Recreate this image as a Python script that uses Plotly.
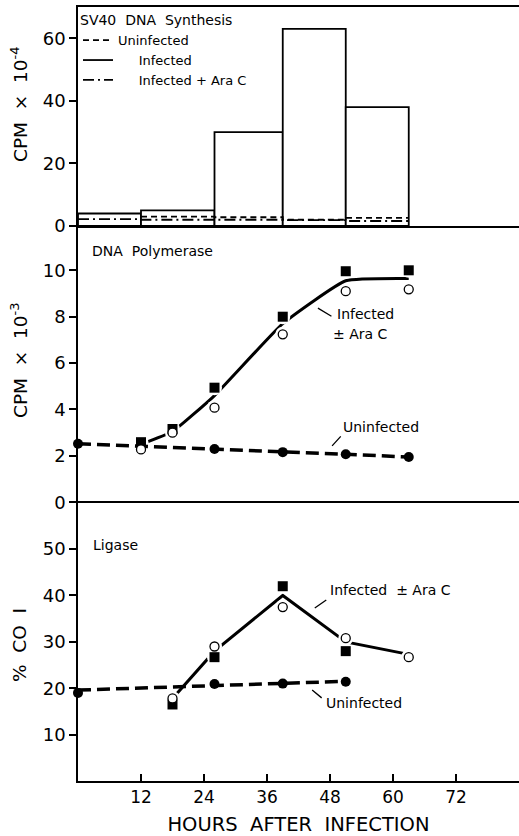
import plotly.graph_objects as go
from plotly.subplots import make_subplots

# ---------------- data ----------------
# Top panel: SV40 DNA synthesis (histogram bins, hours)
bin_edges = [0, 12, 26, 39, 51, 63]
syn_infected = [4, 5, 30, 63, 38]
syn_uninf_edges = [12, 26, 39, 51, 63]
syn_uninfected = [3.0, 2.8, 2.0, 2.6, 2.6]
syn_arac = [2.2, 2.0, 2.0, 1.9, 1.6, 1.6]

# Middle panel: DNA polymerase (CPM x 10^-3)
pol_uninf_x = [0, 12, 26, 39, 51, 63]
pol_uninf_y = [2.52, 2.42, 2.3, 2.16, 2.07, 1.95]
pol_inf_x = [12, 18, 26, 39, 51, 63]
pol_inf_y = [2.59, 3.16, 4.94, 8.0, 9.96, 10.0]
pol_arac_x = [12, 18, 26, 39, 51, 63]
pol_arac_y = [2.28, 3.0, 4.08, 7.24, 9.1, 9.18]
pol_fit_x = [12, 18, 26, 39, 51, 63]
pol_fit_y = [2.5, 3.05, 4.6, 7.7, 9.55, 9.65]

# Bottom panel: Ligase (% CO I)
lig_uninf_x = [0, 26, 39, 51]
lig_uninf_y = [19.0, 20.9, 21.0, 21.4]
lig_uninf_fit_x = [0, 51]
lig_uninf_fit_y = [19.6, 21.5]
lig_inf_x = [18, 26, 39, 51]
lig_inf_y = [16.5, 26.7, 42.0, 28.0]
lig_arac_x = [18, 26, 39, 51, 63]
lig_arac_y = [17.8, 29.0, 37.5, 30.8, 26.7]
lig_line_x = [18, 26, 39, 51, 63]
lig_line_y = [17.8, 28.0, 40.0, 30.0, 27.3]

hour_ticks = [12, 24, 36, 48, 60, 72]

FONT = "DejaVu Sans"
BLACK = "black"

fig = make_subplots(rows=3, cols=1, shared_xaxes=True, vertical_spacing=0,
                    row_heights=[219, 299, 256])

# ---- top panel ----
widths = [bin_edges[i + 1] - bin_edges[i] for i in range(len(syn_infected))]
fig.add_trace(go.Bar(x=bin_edges[:-1], y=syn_infected, width=widths, offset=0,
                     marker=dict(color="white", line=dict(color=BLACK, width=1.8)),
                     showlegend=False, hoverinfo="skip"), row=1, col=1)
fig.add_trace(go.Scatter(x=syn_uninf_edges, y=syn_uninfected, mode="lines",
                         line=dict(color=BLACK, width=1.8, shape="hv", dash="6px,4px"),
                         name="Uninfected", legendrank=1), row=1, col=1)
fig.add_trace(go.Scatter(x=[None], y=[None], mode="lines",
                         line=dict(color=BLACK, width=1.8),
                         name="     Infected", legendrank=2), row=1, col=1)
fig.add_trace(go.Scatter(x=bin_edges, y=syn_arac, mode="lines",
                         line=dict(color=BLACK, width=1.8, shape="hv", dash="11px,4px,2px,4px"),
                         name="     Infected + Ara C", legendrank=3), row=1, col=1)

# ---- middle panel ----
fig.add_trace(go.Scatter(x=pol_fit_x, y=pol_fit_y, mode="lines",
                         line=dict(color=BLACK, width=3, shape="spline", smoothing=0.4),
                         showlegend=False), row=2, col=1)
fig.add_trace(go.Scatter(x=pol_inf_x + pol_arac_x, y=pol_inf_y + pol_arac_y, mode="markers",
                         marker=dict(symbol="circle", size=15, color="white"),
                         showlegend=False, cliponaxis=False), row=2, col=1)
fig.add_trace(go.Scatter(x=pol_uninf_x, y=pol_uninf_y, mode="lines+markers",
                         line=dict(color=BLACK, width=3.5, dash="13px,6px"),
                         marker=dict(symbol="circle", size=10, color=BLACK),
                         showlegend=False, cliponaxis=False), row=2, col=1)
fig.add_trace(go.Scatter(x=pol_inf_x, y=pol_inf_y, mode="markers",
                         marker=dict(symbol="square", size=10, color=BLACK),
                         showlegend=False, cliponaxis=False), row=2, col=1)
fig.add_trace(go.Scatter(x=pol_arac_x, y=pol_arac_y, mode="markers",
                         marker=dict(symbol="circle", size=9, color="white",
                                     line=dict(color=BLACK, width=1.3)),
                         showlegend=False, cliponaxis=False), row=2, col=1)

# ---- bottom panel ----
fig.add_trace(go.Scatter(x=lig_line_x, y=lig_line_y, mode="lines",
                         line=dict(color=BLACK, width=3),
                         showlegend=False), row=3, col=1)
fig.add_trace(go.Scatter(x=lig_inf_x + lig_arac_x, y=lig_inf_y + lig_arac_y, mode="markers",
                         marker=dict(symbol="circle", size=15, color="white"),
                         showlegend=False, cliponaxis=False), row=3, col=1)
fig.add_trace(go.Scatter(x=lig_uninf_fit_x, y=lig_uninf_fit_y, mode="lines",
                         line=dict(color=BLACK, width=3.5, dash="13px,6px"),
                         showlegend=False), row=3, col=1)
fig.add_trace(go.Scatter(x=lig_uninf_x, y=lig_uninf_y, mode="markers",
                         marker=dict(symbol="circle", size=10, color=BLACK),
                         showlegend=False, cliponaxis=False), row=3, col=1)
fig.add_trace(go.Scatter(x=lig_inf_x, y=lig_inf_y, mode="markers",
                         marker=dict(symbol="square", size=10, color=BLACK),
                         showlegend=False, cliponaxis=False), row=3, col=1)
fig.add_trace(go.Scatter(x=lig_arac_x, y=lig_arac_y, mode="markers",
                         marker=dict(symbol="circle", size=9, color="white",
                                     line=dict(color=BLACK, width=1.3)),
                         showlegend=False, cliponaxis=False), row=3, col=1)

# ---- axes ----
xr = [0, 84]
fig.update_xaxes(range=xr, showgrid=False, zeroline=False, automargin=False)
fig.update_xaxes(row=1, col=1, showline=True, mirror=True, linecolor=BLACK, linewidth=1.5,
                 ticks="", showticklabels=False)
fig.update_xaxes(row=2, col=1, showline=False, ticks="", showticklabels=False)
fig.update_xaxes(row=3, col=1, showline=True, linecolor=BLACK, linewidth=1.5,
                 ticks="inside", ticklen=7, tickwidth=1.5, tickcolor=BLACK,
                 tickvals=hour_ticks, showticklabels=True,
                 tickfont=dict(family=FONT, size=17, color=BLACK),
                 title=dict(text="HOURS  AFTER  INFECTION", standoff=12,
                            font=dict(family=FONT, size=19.5, color=BLACK)))

yax = dict(showgrid=False, showline=True, linecolor=BLACK, linewidth=1.5,
           ticks="outside", ticklen=7, tickwidth=1.5, tickcolor=BLACK, automargin=False,
           tickfont=dict(family=FONT, size=18, color=BLACK))
fig.update_yaxes(row=1, col=1, range=[0, 70], tickvals=[0, 20, 40, 60], zeroline=False, **yax)
fig.update_yaxes(row=2, col=1, range=[-0.98, 11.91], tickvals=[0, 2, 4, 6, 8, 10],
                 zeroline=True, zerolinecolor=BLACK, zerolinewidth=1.5, **yax)
fig.update_yaxes(row=3, col=1, range=[0, 55.2], tickvals=[10, 20, 30, 40, 50],
                 zeroline=False, **yax)

# ---- annotations ----
anns = []
def text(x, y, s, ref, size=14):
    anns.append(dict(x=x, y=y, xref="x" + ref, yref="y" + ref, text=s, showarrow=False,
                     xanchor="left", yanchor="middle", font=dict(family=FONT, size=size, color=BLACK)))
def pointer(x, y, ax, ay, ref):
    anns.append(dict(x=x, y=y, xref="x" + ref, yref="y" + ref, text="", showarrow=True,
                     arrowhead=0, arrowwidth=1.3, arrowcolor=BLACK, ax=ax, ay=ay, standoff=0,
                     startstandoff=0))

text(2.3, 10.84, "DNA  Polymerase", "2")
text(48.9, 8.1, "Infected", "2")
text(48.2, 7.26, "± Ara C", "2")
pointer(45.7, 8.37, 15, 9, "2")
text(50.1, 3.25, "Uninfected", "2")
pointer(48.4, 2.43, 10, -11, "2")

text(2.5, 50.9, "Ligase", "3")
text(47.6, 41.2, "Infected  ± Ara C", "3")
pointer(45.1, 37.3, 13, -9, "3")
text(46.8, 16.8, "Uninfected", "3")
pointer(44.6, 19.6, 11, 9, "3")

ytitle_font = dict(family=FONT, size=18.5, color=BLACK)
for txt, yc in [("CPM  ×  10<sup>-4</sup>", 104), ("CPM  ×  10<sup>-3</sup>", 360), ("%  CO  I", 645)]:
    anns.append(dict(x=(19 - 78) / 441, y=(781 - yc) / 774, xref="paper", yref="paper",
                     text=txt, textangle=-90, showarrow=False, xanchor="center",
                     yanchor="middle", font=ytitle_font))

fig.update_layout(
    width=519, height=836,
    margin=dict(l=78, r=0, t=7, b=55, autoexpand=False),
    paper_bgcolor="white", plot_bgcolor="white",
    font=dict(family=FONT, color=BLACK),
    annotations=anns,
    showlegend=True,
    legend=dict(x=0.0, y=1.0, xanchor="left", yanchor="top", bgcolor="rgba(0,0,0,0)",
                font=dict(family=FONT, size=13, color=BLACK),
                title=dict(text="SV40  DNA  Synthesis", font=dict(family=FONT, size=14, color=BLACK)),
                tracegroupgap=0, itemwidth=30),
)

fig.write_html("out.html", config={"displayModeBar": False},
               post_script="document.body.style.margin='0';document.body.style.overflow='hidden';")
